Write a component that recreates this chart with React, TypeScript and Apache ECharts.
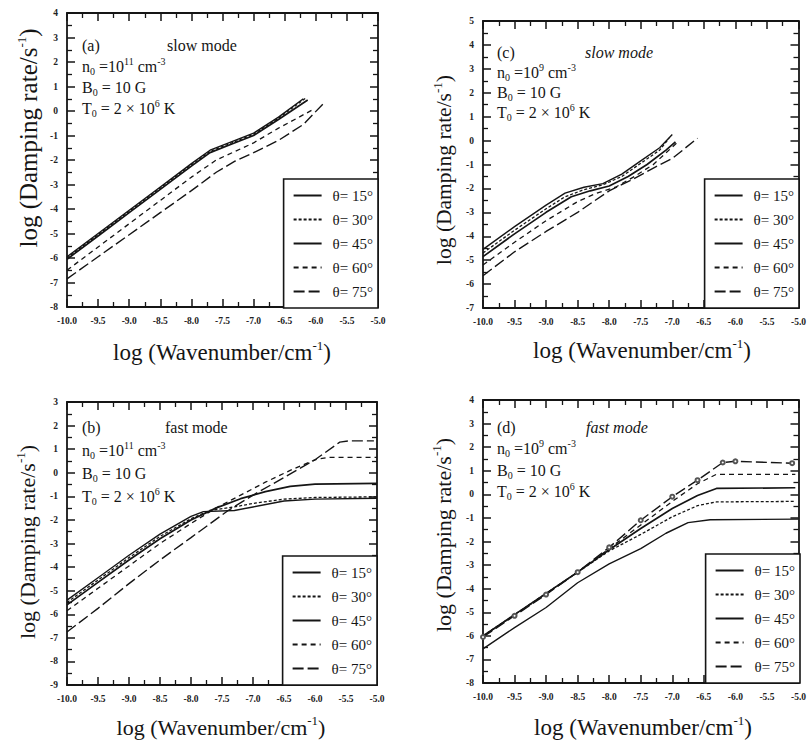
import { useEffect, useRef } from "react";
import * as echarts from "echarts";

// ---------- data ----------
const X_MIN = -10;
const X_MAX = -5;
const ANGLES = [15, 30, 45, 60, 75];

// (a) slow mode, n0 = 1e11
const a15 = [[-10, -5.95], [-9.5, -5.0], [-9, -4.05], [-8.5, -3.1], [-8, -2.15], [-7.7, -1.6], [-7.4, -1.3], [-7.0, -0.9], [-6.6, -0.25], [-6.2, 0.5]];
const a30 = [[-10, -6.0], [-9.5, -5.05], [-9, -4.1], [-8.5, -3.15], [-8, -2.2], [-7.7, -1.65], [-7.4, -1.35], [-7.0, -0.95], [-6.6, -0.3], [-6.15, 0.55]];
const a45 = [[-10, -6.05], [-9.5, -5.1], [-9, -4.15], [-8.5, -3.2], [-8, -2.25], [-7.7, -1.7], [-7.4, -1.4], [-7.0, -1.0], [-6.6, -0.35], [-6.13, 0.45]];
const a60 = [[-10, -6.5], [-9.5, -5.55], [-9, -4.6], [-8.5, -3.65], [-8, -2.7], [-7.6, -2.0], [-7.3, -1.65], [-7.0, -1.3], [-6.6, -0.7], [-6.05, 0.05]];
const a75 = [[-10, -6.85], [-9.5, -5.95], [-9, -5.05], [-8.5, -4.15], [-8, -3.25], [-7.6, -2.5], [-7.3, -2.05], [-7.0, -1.7], [-6.6, -1.2], [-6.2, -0.55], [-5.88, 0.3]];

// (c) slow mode, n0 = 1e9
const c15 = [[-10, -4.55], [-9.5, -3.6], [-9, -2.7], [-8.7, -2.2], [-8.4, -1.95], [-8.1, -1.8], [-7.8, -1.4], [-7.5, -0.85], [-7.2, -0.3], [-7.0, 0.25]];
const c30 = [[-10, -4.7], [-9.5, -3.75], [-9, -2.85], [-8.7, -2.35], [-8.4, -2.05], [-8.1, -1.85], [-7.8, -1.5], [-7.5, -0.95], [-7.2, -0.4], [-7.05, 0.1]];
const c45 = [[-10, -4.85], [-9.5, -3.9], [-9, -3.0], [-8.6, -2.35], [-8.3, -2.1], [-8.0, -1.9], [-7.7, -1.5], [-7.4, -1.0], [-7.1, -0.4], [-6.95, -0.05]];
const c60 = [[-10, -5.2], [-9.5, -4.25], [-9, -3.35], [-8.5, -2.55], [-8.2, -2.2], [-7.9, -1.95], [-7.6, -1.5], [-7.3, -1.0], [-6.93, -0.1]];
const c75 = [[-10, -5.65], [-9.5, -4.65], [-9, -3.8], [-8.5, -3.0], [-8.0, -2.1], [-7.65, -1.65], [-7.3, -1.15], [-7.0, -0.75], [-6.6, 0.1]];

// (b) fast mode, n0 = 1e11
const b15 = [[-10, -5.4], [-9.5, -4.45], [-9, -3.5], [-8.5, -2.6], [-8, -1.85], [-7.8, -1.65], [-7.3, -1.6], [-7.0, -1.45], [-6.5, -1.2], [-6.0, -1.12], [-5.0, -1.08]];
const b30 = [[-10, -5.5], [-9.5, -4.55], [-9, -3.6], [-8.5, -2.7], [-8, -1.95], [-7.7, -1.6], [-7.3, -1.45], [-7.0, -1.3], [-6.5, -1.12], [-6.0, -1.05], [-5.0, -1.02]];
const b45 = [[-10, -5.6], [-9.5, -4.65], [-9, -3.7], [-8.5, -2.8], [-8, -2.0], [-7.6, -1.5], [-7.2, -1.1], [-6.8, -0.8], [-6.4, -0.58], [-6.0, -0.48], [-5.0, -0.45]];
const b60 = [[-10, -5.85], [-9.5, -4.9], [-9, -3.95], [-8.5, -3.0], [-8, -2.15], [-7.6, -1.5], [-7.2, -0.95], [-6.8, -0.4], [-6.4, 0.1], [-6.0, 0.55], [-5.8, 0.65], [-5.0, 0.65]];
const b75 = [[-10, -6.75], [-9.5, -5.75], [-9, -4.7], [-8.5, -3.7], [-8, -2.75], [-7.4, -1.6], [-7.0, -0.95], [-6.5, -0.2], [-6.0, 0.55], [-5.6, 1.3], [-5.45, 1.35], [-5.05, 1.35]];

// (d) fast mode, n0 = 1e9
const d15 = [[-10, -6.55], [-9.5, -5.65], [-9, -4.8], [-8.5, -3.75], [-8, -2.95], [-7.5, -2.3], [-7.1, -1.65], [-6.75, -1.2], [-6.4, -1.08], [-5.0, -1.05]];
const d30 = [[-10, -6.0], [-9.5, -5.1], [-9, -4.2], [-8.5, -3.3], [-8, -2.4], [-7.5, -1.7], [-7.0, -0.95], [-6.6, -0.48], [-6.3, -0.32], [-5.05, -0.3]];
const d45 = [[-10, -6.0], [-9.5, -5.1], [-9, -4.2], [-8.5, -3.3], [-8, -2.35], [-7.5, -1.45], [-7.0, -0.6], [-6.6, -0.05], [-6.3, 0.25], [-5.05, 0.28]];
const d60 = [[-10, -6.02], [-9.5, -5.12], [-9, -4.22], [-8.5, -3.3], [-8, -2.3], [-7.5, -1.3], [-7.0, -0.3], [-6.6, 0.45], [-6.3, 0.85], [-5.05, 0.85]];
const d75 = [[-10, -6.05], [-9.5, -5.15], [-9, -4.25], [-8.5, -3.3], [-8, -2.25], [-7.5, -1.1], [-7.0, -0.1], [-6.6, 0.6], [-6.2, 1.35], [-6.0, 1.4], [-5.1, 1.32]];

// ---------- layout / styles ----------
const FONT = '"Liberation Serif", "DejaVu Serif", serif';
const INK = "#151515";

const PANELS = [
  { key: "a", label: "(a)", mode: "slow mode", nExp: "11", yMin: -8, yMax: 4,
    data: [a15, a30, a45, a60, a75],
    grid: { left: 67, top: 13, width: 311, height: 294 },
    legend: { right: 431, bottom: 434 },
    text: { x: 82, y: 45, modeX: 167, gap: 21 },
    yTitle: { x: 28, y: 138, size: 25 }, xTitle: { x: 222, y: 352, size: 23 },
    italic: false },
  { key: "c", label: "(c)", mode: "slow mode", nExp: "9", yMin: -7, yMax: 5,
    data: [c15, c30, c45, c60, c75],
    grid: { left: 483, top: 21, width: 316, height: 287 },
    legend: { right: 10, bottom: 434 },
    text: { x: 497, y: 52, modeX: 585, gap: 20 },
    yTitle: { x: 444, y: 170, size: 21.5 }, xTitle: { x: 642, y: 350, size: 23 },
    italic: true },
  { key: "b", label: "(b)", mode: "fast mode", nExp: "11", yMin: -9, yMax: 3,
    data: [b15, b30, b45, b60, b75],
    grid: { left: 67, top: 402, width: 310, height: 283 },
    legend: { right: 432, bottom: 57 },
    text: { x: 82, y: 427, modeX: 165, gap: 23 },
    yTitle: { x: 27, y: 542, size: 22 }, xTitle: { x: 221, y: 727, size: 22 },
    italic: false },
  { key: "d", label: "(d)", mode: "fast mode", nExp: "9", yMin: -8, yMax: 4,
    data: [d15, d30, d45, d60, d75],
    grid: { left: 483, top: 400, width: 317, height: 283 },
    legend: { right: 9, bottom: 59 },
    text: { x: 497, y: 427, modeX: 586, gap: 21.5 },
    yTitle: { x: 443, y: 535, size: 22 }, xTitle: { x: 643, y: 727, size: 23 },
    italic: true },
];

const LINE_STYLES = [
  { type: "solid", width: 1.4 },
  { type: [3, 2], width: 1.3 },
  { type: "solid", width: 1.7 },
  { type: [5, 4], width: 1.3 },
  { type: [11, 4], width: 1.4 },
];

const RICH = {
  sup: { fontSize: 10, verticalAlign: "top", lineHeight: 20, fontFamily: FONT, fill: INK },
  sub: { fontSize: 10, verticalAlign: "bottom", lineHeight: 20, fontFamily: FONT, fill: INK },
};
const RICH_BIG = {
  sup: { fontSize: 13, verticalAlign: "top", lineHeight: 26, fontFamily: FONT, fill: INK },
};

function buildOption() {
  const grids: any[] = [];
  const xAxes: any[] = [];
  const yAxes: any[] = [];
  const series: any[] = [];
  const legends: any[] = [];
  const graphics: any[] = [];

  PANELS.forEach((p, i) => {
    grids.push({ ...p.grid, containLabel: false });
    const tick = { inside: true, length: 8, lineStyle: { color: INK, width: 1.5 } };
    const minor = { show: true, splitNumber: 2, length: 5, lineStyle: { color: INK, width: 1.3 } };
    const line = { show: true, onZero: false, lineStyle: { color: INK, width: 1.8 } };
    const lab = { fontFamily: FONT, fontSize: 9.5, fontWeight: "bold", color: "#222" };
    xAxes.push({
      gridIndex: i, type: "value", position: "bottom", min: X_MIN, max: X_MAX, interval: 0.5,
      axisLine: line, axisTick: tick, minorTick: minor, splitLine: { show: false },
      axisLabel: { ...lab, margin: 9, formatter: (v: number) => v.toFixed(1) },
    });
    xAxes.push({
      gridIndex: i, type: "value", position: "top", min: X_MIN, max: X_MAX, interval: 0.5,
      axisLine: line, axisTick: tick, minorTick: minor, splitLine: { show: false },
      axisLabel: { show: false },
    });
    yAxes.push({
      gridIndex: i, type: "value", position: "left", min: p.yMin, max: p.yMax, interval: 1,
      axisLine: line, axisTick: tick, minorTick: minor, splitLine: { show: false },
      axisLabel: { ...lab, margin: 9 },
    });
    yAxes.push({
      gridIndex: i, type: "value", position: "right", min: p.yMin, max: p.yMax, interval: 1,
      axisLine: line, axisTick: tick, minorTick: minor, splitLine: { show: false },
      axisLabel: { show: false },
    });

    const names: string[] = [];
    p.data.forEach((d, k) => {
      const name = p.key + ANGLES[k];
      names.push(name);
      const withMarks = p.key === "d" && k === 4;
      series.push({
        type: "line",
        name,
        xAxisIndex: 2 * i,
        yAxisIndex: 2 * i,
        data: d,
        symbol: withMarks ? "emptyCircle" : "none",
        symbolSize: 4,
        showSymbol: withMarks,
        smooth: false,
        lineStyle: { color: INK, ...LINE_STYLES[k] },
        itemStyle: { color: "#555", borderColor: "#555", borderWidth: 1 },
        silent: true,
      });
    });

    legends.push({
      data: names,
      orient: "vertical",
      right: p.legend.right,
      bottom: p.legend.bottom,
      backgroundColor: "#fff",
      borderColor: INK,
      borderWidth: 1.6,
      borderRadius: 0,
      padding: [9, 5, 9, 9],
      itemWidth: 28,
      itemHeight: 12,
      itemGap: 9,
      selectedMode: false,
      itemStyle: { opacity: 0 },
      textStyle: { fontFamily: FONT, fontSize: 15, color: INK, padding: [0, 0, 0, 6] },
      formatter: (name: string) => "θ= " + name.slice(1) + "°",
    });

    const t = p.text;
    const base = { fontFamily: FONT, fontSize: 16, fill: INK, verticalAlign: "middle", lineHeight: 20 };
    graphics.push({ type: "text", x: t.x, y: t.y, style: { ...base, text: p.label } });
    graphics.push({
      type: "text", x: t.modeX, y: t.y,
      style: { ...base, text: p.mode, fontStyle: p.italic ? "italic" : "normal" },
    });
    graphics.push({
      type: "text", x: t.x, y: t.y + t.gap,
      style: { ...base, text: "n{sub|0} =10{sup|" + p.nExp + "} cm{sup|-3}", rich: RICH },
    });
    graphics.push({
      type: "text", x: t.x, y: t.y + 2 * t.gap,
      style: { ...base, text: "B{sub|0} = 10 G", rich: RICH },
    });
    graphics.push({
      type: "text", x: t.x, y: t.y + 3 * t.gap,
      style: { ...base, text: "T{sub|0} = 2 × 10{sup|6} K", rich: RICH },
    });

    graphics.push({
      type: "text", x: p.yTitle.x, y: p.yTitle.y, rotation: Math.PI / 2,
      style: {
        text: "log (Damping rate/s{sup|-1})", rich: RICH_BIG,
        fontFamily: FONT, fontSize: p.yTitle.size, fill: INK,
        align: "center", verticalAlign: "middle", lineHeight: 26,
      },
    });
    graphics.push({
      type: "text", x: p.xTitle.x, y: p.xTitle.y,
      style: {
        text: "log (Wavenumber/cm{sup|-1})", rich: RICH_BIG,
        fontFamily: FONT, fontSize: p.xTitle.size, fill: INK,
        align: "center", verticalAlign: "middle", lineHeight: 26,
      },
    });
  });

  return {
    animation: false,
    backgroundColor: "#fff",
    grid: grids,
    xAxis: xAxes,
    yAxis: yAxes,
    series,
    legend: legends,
    graphic: graphics,
  };
}

export default function App() {
  const ref = useRef<HTMLDivElement>(null);
  useEffect(() => {
    if (!ref.current) return;
    const chart = echarts.init(ref.current, undefined, { renderer: "svg" });
    chart.setOption(buildOption() as any);
    return () => chart.dispose();
  }, []);
  return (
    <div
      ref={ref}
      style={{ position: "absolute", left: 0, top: 0, width: 809, height: 742, background: "#fff" }}
    />
  );
}
